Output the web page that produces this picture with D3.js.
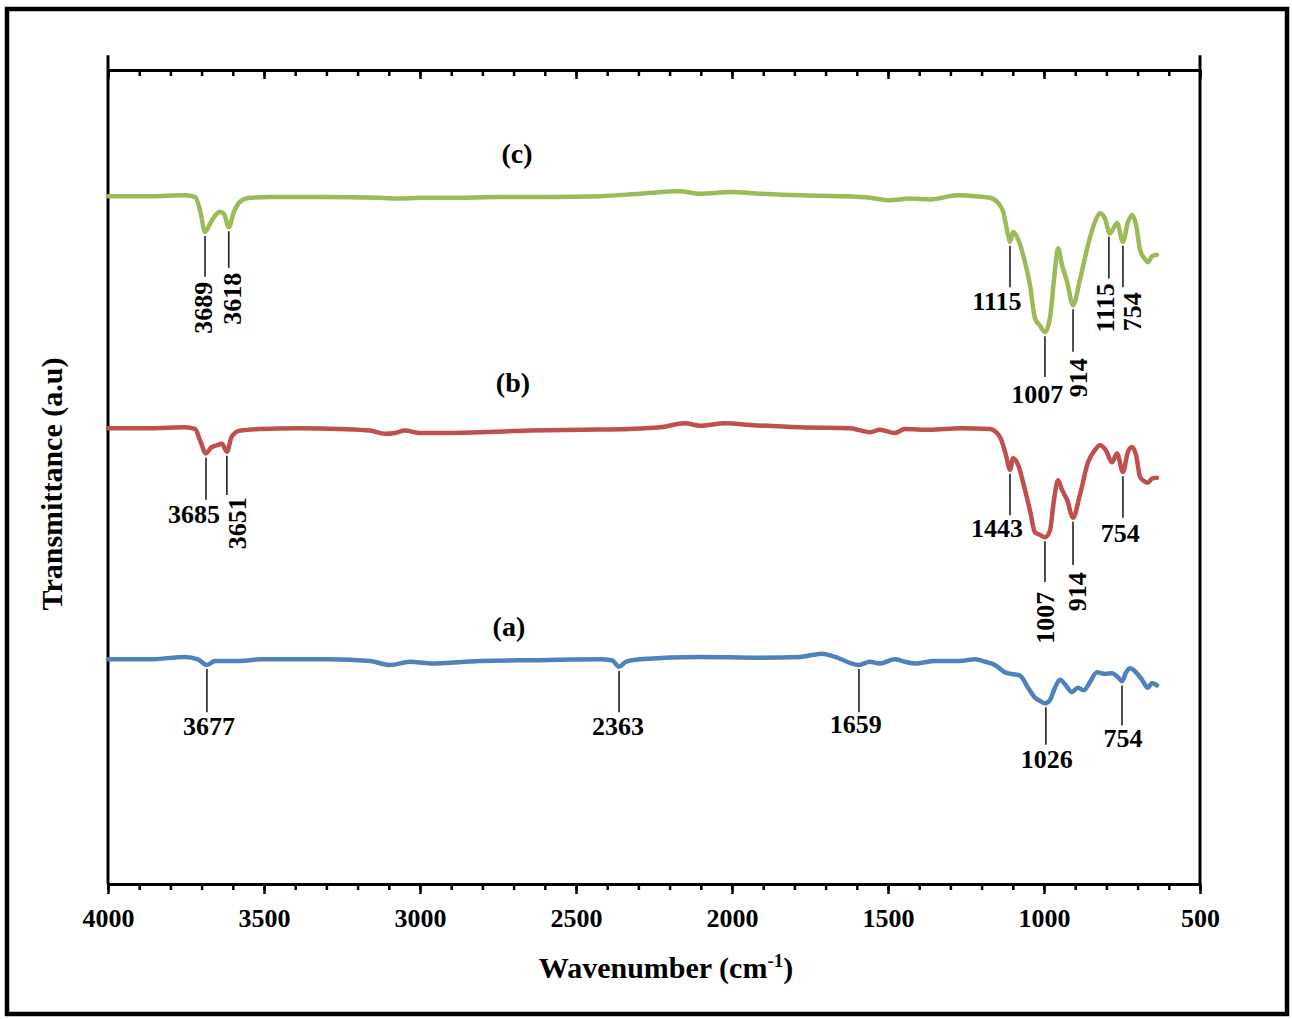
<!DOCTYPE html>
<html lang="en">
  <head>
    <meta charset="utf-8" />
    <title>FTIR spectra</title>
    <script src="https://d3js.org/d3.v7.min.js"></script>
    <style>
      body { margin: 0; background: #fff; }
      text { font-family: "Liberation Serif", "Times New Roman", serif; font-weight: bold; }
    </style>
  </head>
  <body>
    <div id="chart"></div>
    <script>
      // wavenumber (cm-1) and transmittance (a.u., offset per spectrum)
      var seriesC = [
        [4000, 84.5], [3865, 84.5], [3753, 84.6], [3721, 84.4], [3705, 82.8], [3689, 80.1],
        [3673, 81.1], [3657, 82.1], [3641, 82.6], [3628, 82.3], [3613, 80.7], [3596, 82.6],
        [3577, 83.8], [3545, 84.3], [3481, 84.4], [3321, 84.4], [3128, 84.3], [3064, 84.2],
        [3000, 84.3], [2904, 84.3], [2744, 84.4], [2583, 84.4], [2423, 84.5], [2295, 84.8],
        [2167, 85.1], [2103, 84.8], [2006, 85.0], [1910, 84.8], [1782, 84.6], [1654, 84.5],
        [1558, 84.3], [1494, 84.0], [1430, 84.2], [1365, 84.1], [1276, 84.6], [1221, 84.5],
        [1173, 84.3], [1148, 83.7], [1131, 82.6], [1115, 79.7], [1109, 78.9], [1099, 80.1],
        [1083, 79.2], [1061, 76.4], [1045, 73.6], [1029, 69.5], [1013, 68.6], [997, 67.8],
        [981, 69.5], [968, 74.2], [955, 78.1], [942, 76.0], [926, 74.0], [907, 71.1],
        [885, 74.2], [859, 78.5], [837, 81.3], [821, 82.4], [805, 81.8], [789, 79.9],
        [766, 81.2], [747, 78.9], [731, 81.3], [718, 82.2], [705, 81.0], [692, 77.9],
        [679, 76.9], [667, 76.4], [654, 77.1], [638, 77.3]
      ];
      var seriesB = [
        [4000, 56.0], [3865, 56.0], [3753, 56.1], [3721, 55.9], [3705, 54.5], [3686, 52.9],
        [3670, 53.6], [3651, 53.9], [3635, 54.1], [3619, 53.1], [3603, 55.0], [3577, 55.7],
        [3513, 55.9], [3385, 56.0], [3256, 55.9], [3160, 55.7], [3112, 55.3], [3080, 55.4],
        [3048, 55.7], [3000, 55.4], [2936, 55.4], [2808, 55.5], [2647, 55.7], [2487, 55.8],
        [2327, 55.9], [2231, 56.1], [2151, 56.6], [2103, 56.3], [2022, 56.6], [1942, 56.4],
        [1782, 56.1], [1622, 56.0], [1558, 55.5], [1526, 55.8], [1478, 55.4], [1446, 55.9],
        [1365, 55.8], [1269, 56.0], [1173, 55.9], [1141, 54.9], [1122, 52.7], [1109, 50.9],
        [1099, 52.3], [1083, 51.5], [1061, 48.4], [1045, 45.9], [1029, 43.2], [1013, 42.9],
        [997, 42.6], [981, 43.4], [968, 47.2], [955, 49.6], [942, 48.4], [926, 47.2],
        [907, 45.0], [885, 47.8], [859, 51.8], [837, 53.3], [821, 53.9], [802, 53.3],
        [782, 51.8], [766, 52.9], [747, 50.6], [731, 53.1], [718, 53.7], [705, 52.7],
        [692, 50.0], [679, 49.5], [667, 49.3], [654, 49.8], [638, 49.9]
      ];
      var seriesA = [
        [4000, 27.6], [3865, 27.6], [3753, 27.9], [3712, 27.6], [3683, 26.9], [3657, 27.4],
        [3577, 27.4], [3513, 27.6], [3288, 27.6], [3160, 27.4], [3096, 26.9], [3032, 27.3],
        [2968, 27.1], [2808, 27.4], [2615, 27.5], [2423, 27.6], [2385, 27.5], [2362, 26.7],
        [2340, 27.3], [2295, 27.6], [2103, 27.9], [1910, 27.8], [1782, 27.9], [1712, 28.3],
        [1670, 27.9], [1593, 26.9], [1558, 27.3], [1526, 27.1], [1478, 27.6], [1446, 27.3],
        [1414, 27.1], [1349, 27.4], [1269, 27.4], [1221, 27.6], [1189, 27.3], [1157, 26.9],
        [1125, 26.0], [1103, 25.8], [1077, 25.6], [1051, 24.1], [1029, 22.9], [1013, 22.5],
        [997, 22.2], [981, 22.6], [965, 24.1], [949, 25.1], [930, 24.4], [911, 23.6],
        [891, 24.1], [872, 23.8], [853, 24.8], [830, 26.0], [805, 25.8], [782, 25.9],
        [763, 25.4], [750, 24.9], [737, 26.0], [724, 26.5], [705, 26.0], [686, 25.1],
        [667, 24.1], [654, 24.7], [638, 24.4]
      ];

      var seriesNames = ["(a)", "(b)", "(c)"];
      var seriesColors = ["#4F81BD", "#C0504D", "#9BBB59"];
      // where the (a)/(b)/(c) names sit: [wavenumber, value]
      var seriesNamePos = [[2715, 30.5], [2702, 60.4], [2689, 88.6]];

      // peak labels: [text, leader wavenumber, leader top, leader bottom, label wavenumber, label value, rotated]
      var peaksC = [
        ["3689", 3689, 79.6, 74.6, 3696, 74.0, true],
        ["3618", 3613, 80.2, 75.7, 3603, 75.1, true],
        ["1115", 1109, 78.4, 73.3, 1151, 70.5, false],
        ["1007", 997, 67.3, 62.3, 1022, 59.1, false],
        ["914", 907, 70.6, 65.4, 891, 64.6, true],
        ["1115", 792, 79.5, 74.4, 805, 73.8, true],
        ["754", 747, 78.4, 73.3, 718, 72.7, true]
      ];
      var peaksB = [
        ["3685", 3686, 52.4, 47.2, 3724, 44.3, false],
        ["3651", 3619, 52.6, 47.8, 3587, 47.5, true],
        ["1443", 1109, 50.4, 45.3, 1151, 42.6, false],
        ["1007", 997, 42.1, 37.1, 997, 35.9, true],
        ["914", 907, 44.5, 39.2, 894, 38.3, true],
        ["754", 747, 50.1, 45.0, 756, 42.0, false]
      ];
      var peaksA = [
        ["3677", 3683, 26.4, 21.1, 3676, 18.3, false],
        ["2363", 2362, 26.2, 21.1, 2365, 18.3, false],
        ["1659", 1593, 26.4, 21.1, 1603, 18.6, false],
        ["1026", 994, 21.7, 17.1, 991, 14.3, false],
        ["754", 750, 24.4, 19.5, 747, 16.8, false]
      ];

      var xMajor = [4000, 3500, 3000, 2500, 2000, 1500, 1000, 500];
      var xMinor = d3.range(4000, 499, -100);

      var W = 1292, H = 1019;
      var svg = d3.select("#chart").append("svg").attr("width", W).attr("height", H);

      // outer frame
      svg.append("rect")
        .attr("x", 7).attr("y", 9).attr("width", 1280).attr("height", 1005)
        .attr("fill", "none").attr("stroke", "#000").attr("stroke-width", 4.5);

      var x = d3.scaleLinear().domain([4000, 500]).range([108, 1200]);
      var y = d3.scaleLinear().domain([0, 100]).range([884, 70]);
      var yCap = 101.8;

      // left and right frame lines
      [4000, 500].forEach(function (w) {
        svg.append("line")
          .attr("x1", x(w)).attr("x2", x(w))
          .attr("y1", y(0)).attr("y2", y(yCap))
          .attr("stroke", "#000").attr("stroke-width", 3);
      });

      function tickAxis(yPos, values, size, labels) {
        var ax = d3.axisBottom(x).tickValues(values).tickSize(size).tickSizeOuter(0);
        ax.tickFormat(labels ? d3.format("d") : "");
        var g = svg.append("g").attr("transform", "translate(0," + yPos + ")").call(ax);
        g.select(".domain").attr("stroke-width", 3);
        g.selectAll(".tick line").attr("stroke-width", 2.5);
        return g;
      }

      // bottom axis
      tickAxis(y(0), xMinor, 6, false);
      var bottom = tickAxis(y(0), xMajor, 10, true);
      bottom.selectAll(".tick text")
        .attr("y", 0).attr("dy", 0)
        .attr("transform", "translate(0,43)")
        .style("font-family", '"Liberation Serif", serif')
        .style("font-weight", "bold")
        .style("font-size", "26px")
        .attr("fill", "#000");

      // top axis (ticks pointing inward)
      tickAxis(y(100), xMinor, 6, false);
      tickAxis(y(100), xMajor, 9, false);

      var line = d3.line()
        .x(function (d) { return x(d[0]); })
        .y(function (d) { return y(d[1]); })
        .curve(d3.curveMonotoneX);

      var allSeries = [seriesA, seriesB, seriesC];
      var allPeaks = [peaksA, peaksB, peaksC];

      allSeries.forEach(function (s, i) {
        svg.append("path")
          .datum(s)
          .attr("fill", "none")
          .attr("stroke", seriesColors[i])
          .attr("stroke-width", 4.5)
          .attr("stroke-linejoin", "round")
          .attr("stroke-linecap", "round")
          .attr("d", line);

        svg.append("text")
          .attr("x", x(seriesNamePos[i][0]))
          .attr("y", y(seriesNamePos[i][1]))
          .attr("text-anchor", "middle")
          .style("font-size", "28px")
          .text(seriesNames[i]);

        allPeaks[i].forEach(function (p) {
          svg.append("line")
            .attr("x1", x(p[1])).attr("x2", x(p[1]))
            .attr("y1", y(p[2])).attr("y2", y(p[3]))
            .attr("stroke", "#222").attr("stroke-width", 1.6);

          var t = svg.append("text").style("font-size", "26px").text(p[0]);
          if (p[6]) {
            t.attr("text-anchor", "end")
              .attr("dy", "0.35em")
              .attr("transform", "translate(" + x(p[4]) + "," + y(p[5]) + ") rotate(-90)");
          } else {
            t.attr("text-anchor", "middle")
              .attr("x", x(p[4]))
              .attr("y", y(p[5]));
          }
        });
      });

      // axis titles
      var xt = svg.append("text")
        .attr("x", 666).attr("y", 978)
        .attr("text-anchor", "middle")
        .style("font-size", "30px");
      xt.append("tspan").text("Wavenumber (cm");
      xt.append("tspan").attr("dy", -11).style("font-size", "19px").text("-1");
      xt.append("tspan").attr("dy", 11).text(")");

      svg.append("text")
        .attr("transform", "translate(62,484) rotate(-90)")
        .attr("text-anchor", "middle")
        .style("font-size", "30px")
        .text("Transmittance (a.u)");
    </script>
  </body>
</html>
